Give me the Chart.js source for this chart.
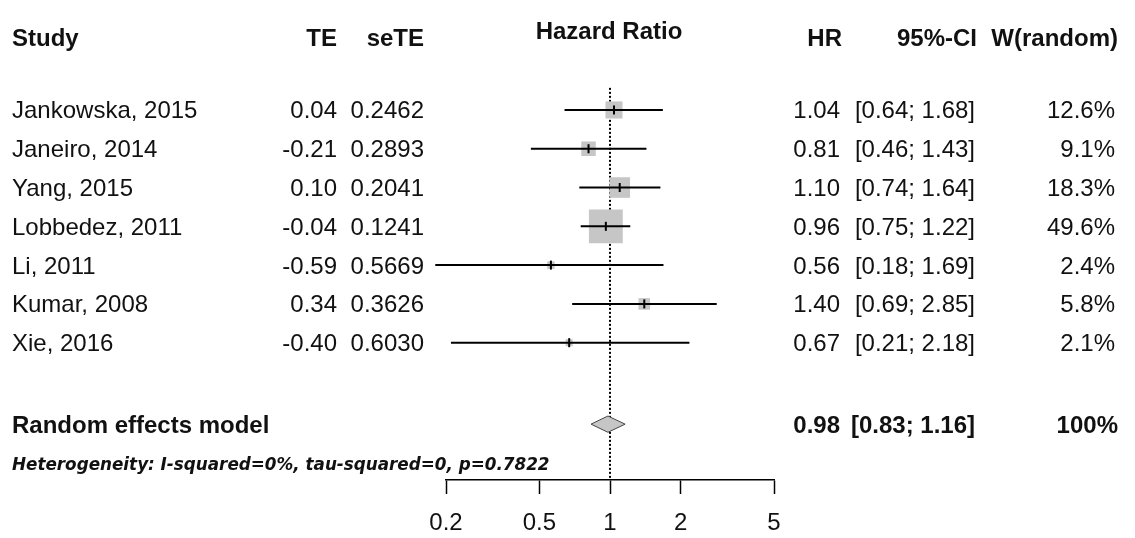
<!DOCTYPE html>
<html>
<head>
<meta charset="utf-8">
<script src="https://cdn.jsdelivr.net/npm/chart.js@4.4.1/dist/chart.umd.min.js"></script>
<style>
  html, body { margin: 0; padding: 0; background: #fff; }
  canvas { display: block; }
</style>
</head>
<body>
<canvas id="forest" width="1135" height="538"></canvas>
<script>
// study data, as printed in the forest plot
const studies = ["Jankowska, 2015", "Janeiro, 2014", "Yang, 2015", "Lobbedez, 2011", "Li, 2011", "Kumar, 2008", "Xie, 2016"];
const te = [0.04, -0.21, 0.10, -0.04, -0.59, 0.34, -0.40];
const seTE = [0.2462, 0.2893, 0.2041, 0.1241, 0.5669, 0.3626, 0.6030];
const hr = [1.04, 0.81, 1.10, 0.96, 0.56, 1.40, 0.67];
const ciLower = [0.64, 0.46, 0.74, 0.75, 0.18, 0.69, 0.21];
const ciUpper = [1.68, 1.43, 1.64, 1.22, 1.69, 2.85, 2.18];
const weights = [12.6, 9.1, 18.3, 49.6, 2.4, 5.8, 2.1];

const pooled = { label: "Random effects model", hr: 0.98, lower: 0.83, upper: 1.16, weight: "100%" };
const heterogeneity = "Heterogeneity: I-squared=0%, tau-squared=0, p=0.7822";
const xTicks = [0.2, 0.5, 1, 2, 5];

// rows on the y scale
const studyRows = studies.map((s, i) => i + 1);
const pooledRow = 9.1;
const headerRow = -0.88;

const FAMILY = '"Liberation Sans", Arial, sans-serif';
const REG = "24px " + FAMILY;
const BOLD = "bold 24px " + FAMILY;
const HET = 'italic bold 16.8px "DejaVu Sans", Verdana, sans-serif';

const ciLines = studies.map((s, i) => ({
  type: "line",
  data: [{ x: ciLower[i], y: studyRows[i] }, { x: ciUpper[i], y: studyRows[i] }],
  borderColor: "#000",
  borderWidth: 2,
  pointRadius: 0,
  clip: false,
  order: 3
}));

const tablePlugin = {
  id: "table",
  afterDraw(chart) {
    const ctx = chart.ctx;
    const ys = chart.scales.y;
    const text = (str, x, row, align, font, off = 8.5) => {
      ctx.font = font;
      ctx.textAlign = align;
      ctx.textBaseline = "alphabetic";
      ctx.fillText(str, x, ys.getPixelForValue(row) + off);
    };
    ctx.save();
    ctx.fillStyle = "#111";

    // header
    text("Study", 12, headerRow, "left", BOLD);
    text("TE", 337, headerRow, "right", BOLD);
    text("seTE", 424, headerRow, "right", BOLD);
    text("Hazard Ratio", 609, headerRow - 0.18, "center", BOLD);
    text("HR", 842, headerRow, "right", BOLD);
    text("95%-CI", 977, headerRow, "right", BOLD);
    text("W(random)", 1118, headerRow, "right", BOLD);

    studies.forEach((s, i) => {
      const r = studyRows[i];
      text(s, 12, r, "left", REG);
      text(te[i].toFixed(2), 337, r, "right", REG);
      text(seTE[i].toFixed(4), 424, r, "right", REG);
      text(hr[i].toFixed(2), 840, r, "right", REG);
      text("[" + ciLower[i].toFixed(2) + "; " + ciUpper[i].toFixed(2) + "]", 975, r, "right", REG);
      text(weights[i].toFixed(1) + "%", 1115, r, "right", REG);
    });

    text(pooled.label, 12, pooledRow, "left", BOLD);
    text(pooled.hr.toFixed(2), 840, pooledRow, "right", BOLD);
    text("[" + pooled.lower.toFixed(2) + "; " + pooled.upper.toFixed(2) + "]", 975, pooledRow, "right", BOLD);
    text(pooled.weight, 1118, pooledRow, "right", BOLD);

    text(heterogeneity, 12, 10.14, "left", HET, 6);
    ctx.restore();
  }
};

const dh = 0.21; // diamond half height, in rows

new Chart(document.getElementById("forest"), {
  type: "scatter",
  data: {
    datasets: [
      {
        // line of no effect
        type: "line",
        data: [{ x: 1, y: 0.43 }, { x: 1, y: 10.54 }],
        borderColor: "#000",
        borderWidth: 2,
        borderDash: [2, 2],
        pointRadius: 0,
        clip: false,
        order: 5
      },
      {
        // study weights
        data: studies.map((s, i) => ({ x: hr[i], y: studyRows[i] })),
        pointStyle: "rect",
        pointRadius: weights.map(w => 3.4 * Math.sqrt(w)),
        pointBackgroundColor: "#c6c6c6",
        pointBorderWidth: 0,
        clip: false,
        order: 4
      },
      ...ciLines,
      {
        // point estimates
        data: studies.map((s, i) => ({ x: hr[i], y: studyRows[i] })),
        pointStyle: "line",
        pointRotation: 90,
        pointRadius: 4.5,
        pointBorderColor: "#000",
        pointBorderWidth: 2,
        clip: false,
        order: 2
      },
      {
        // pooled estimate
        type: "line",
        data: [
          { x: pooled.lower, y: pooledRow },
          { x: pooled.hr, y: pooledRow - dh },
          { x: pooled.upper, y: pooledRow },
          { x: pooled.hr, y: pooledRow + dh },
          { x: pooled.lower, y: pooledRow }
        ],
        fill: "shape",
        backgroundColor: "#c6c6c6",
        borderColor: "#444",
        borderWidth: 1,
        pointRadius: 0,
        tension: 0,
        clip: false,
        order: 1
      }
    ]
  },
  options: {
    responsive: false,
    animation: false,
    devicePixelRatio: 1,
    layout: { autoPadding: false, padding: { left: 446, right: 361, top: 0, bottom: 0 } },
    plugins: { legend: { display: false }, tooltip: { enabled: false } },
    scales: {
      x: {
        type: "logarithmic",
        min: 0.2,
        max: 5,
        afterBuildTicks: (scale) => { scale.ticks = xTicks.map(v => ({ value: v })); },
        afterFit: (scale) => { scale.height = 58; },
        grid: { drawOnChartArea: false, drawTicks: true, tickLength: 14, tickColor: "#000", tickWidth: 1.5 },
        border: { display: true, color: "#000", width: 1.5 },
        ticks: {
          color: "#111",
          font: { family: FAMILY, size: 24 },
          padding: 15,
          autoSkip: false,
          maxRotation: 0,
          callback: (v) => String(v)
        }
      },
      y: {
        type: "linear",
        min: -1.835,
        max: 10.54,
        reverse: true,
        display: false
      }
    }
  },
  plugins: [tablePlugin]
});
</script>
</body>
</html>
